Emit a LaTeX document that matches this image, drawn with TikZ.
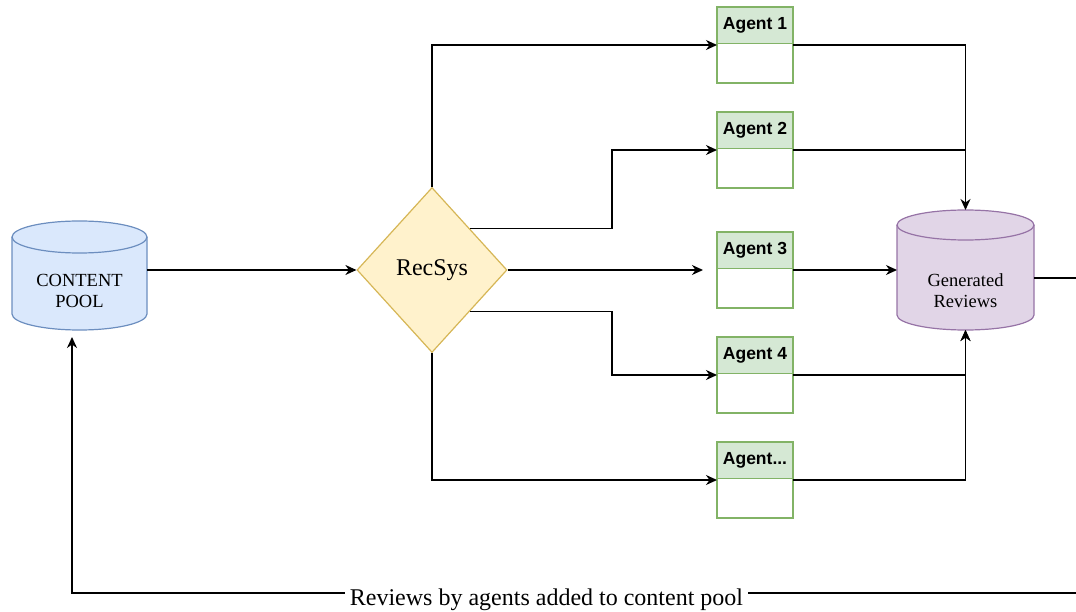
\documentclass[tikz,border=0pt]{standalone}
\usepackage{fontspec}
\setmainfont{Liberation Serif}
\newfontfamily\agentfont{Liberation Sans}
\usetikzlibrary{shapes.geometric,arrows.meta}

\definecolor{poolfill}{HTML}{DAE8FC}
\definecolor{poolline}{HTML}{6C8EBF}
\definecolor{recfill}{HTML}{FFF2CC}
\definecolor{recline}{HTML}{D6B656}
\definecolor{agentfill}{HTML}{D5E8D4}
\definecolor{agentline}{HTML}{82B366}
\definecolor{genfill}{HTML}{E1D5E7}
\definecolor{genline}{HTML}{9673A6}

\tikzset{
  store/.style={inner sep=0pt, outer sep=0pt},
  storetext/.style={align=center, font=\fontsize{18.5}{21}\selectfont},
  agent/.style={draw=agentline, fill=white, line width=1.2pt, minimum width=76pt, minimum height=76pt, outer sep=0pt},
  agenthead/.style={draw=agentline, fill=agentfill, line width=1.2pt, minimum width=76pt, minimum height=36pt, anchor=north,
    font=\agentfont\bfseries\fontsize{17.5}{19}\selectfont},
  wire/.style={line width=1.3pt},
  link/.style={wire, -{Stealth[length=11pt,width=10pt,inset=3.5pt]}},
}

\begin{document}
\begin{tikzpicture}[x=1pt,y=1pt]
\useasboundingbox (0,0) rectangle (1076,611);

% stores
\node[store, minimum width=135pt, minimum height=109pt] (pool) at (79.5,335.5) {};
\node[store, minimum width=137pt, minimum height=120pt] (gen) at (965.5,341) {};

\filldraw[fill=poolfill, draw=poolline, line width=1.2pt]
  ([yshift=-16pt]pool.north west) -- ([yshift=16pt]pool.south west)
  arc[start angle=180, end angle=360, x radius=67.5pt, y radius=16pt]
  -- ([yshift=-16pt]pool.north east)
  arc[start angle=0, end angle=180, x radius=67.5pt, y radius=16pt] -- cycle;
\draw[poolline, line width=1.2pt] ([yshift=-16pt]pool.north west)
  arc[start angle=180, end angle=360, x radius=67.5pt, y radius=16pt];

\filldraw[fill=genfill, draw=genline, line width=1.2pt]
  ([yshift=-15pt]gen.north west) -- ([yshift=15pt]gen.south west)
  arc[start angle=180, end angle=360, x radius=68.5pt, y radius=15pt]
  -- ([yshift=-15pt]gen.north east)
  arc[start angle=0, end angle=180, x radius=68.5pt, y radius=15pt] -- cycle;
\draw[genline, line width=1.2pt] ([yshift=-15pt]gen.north west)
  arc[start angle=180, end angle=360, x radius=68.5pt, y radius=15pt];

\node[storetext] (pooltxt) at ([yshift=-15pt]pool.center) {CONTENT\\POOL};
\node[storetext] (gentxt) at ([yshift=-21pt]gen.center) {Generated\\Reviews};

% recommender
\node[diamond, draw=recline, fill=recfill, line width=1.2pt, inner sep=0pt,
  minimum width=150pt, minimum height=165pt, font=\fontsize{24}{28}\selectfont] (rec) at (432,341) {RecSys};
\coordinate (fork) at (612,341);

% agents
\node[agent] (a1) at (755,566) {};
\node[agenthead] (a1h) at (a1.north) {Agent 1};
\node[agent] (a2) at (755,461) {};
\node[agenthead] (a2h) at (a2.north) {Agent 2};
\node[agent] (a3) at (755,341) {};
\node[agenthead] (a3h) at (a3.north) {Agent 3};
\node[agent] (a4) at (755,236) {};
\node[agenthead] (a4h) at (a4.north) {Agent 4};
\node[agent] (a5) at (755,131) {};
\node[agenthead] (a5h) at (a5.north) {Agent...};

% feeds
\draw[link] (rec.west -| pool.east) -- (rec.west);
\draw[link] (rec.north) |- (a1.west);
\draw[link] (rec.north east) -- (rec.north east -| fork) |- (a2.west);
\draw[link, shorten >=14pt] (rec.east) -- (a3.west);
\draw[link] (rec.south east) -- (rec.south east -| fork) |- (a4.west);
\draw[link] (rec.south) |- (a5.west);

% reviews
\draw[link] (a1.east) -| (gen.north);
\draw[wire] (a2.east) -- (a2.east -| gen.north);
\draw[link] (a3.east) -- (gen.west);
\draw[link] (a4.east) -| (gen.south);
\draw[link] (a5.east) -| (gen.south);

% back to the pool
\coordinate (edge) at (1090,18);
\draw[link, shorten >=7pt] ([yshift=-8pt]gen.east) -| (edge) -| ([xshift=-7.5pt]pool.south);
\node[fill=white, inner sep=5pt, anchor=base, font=\fontsize{24}{28}\selectfont] (note) at (546.5,6)
  {Reviews by agents added to content pool};

\end{tikzpicture}
\end{document}
